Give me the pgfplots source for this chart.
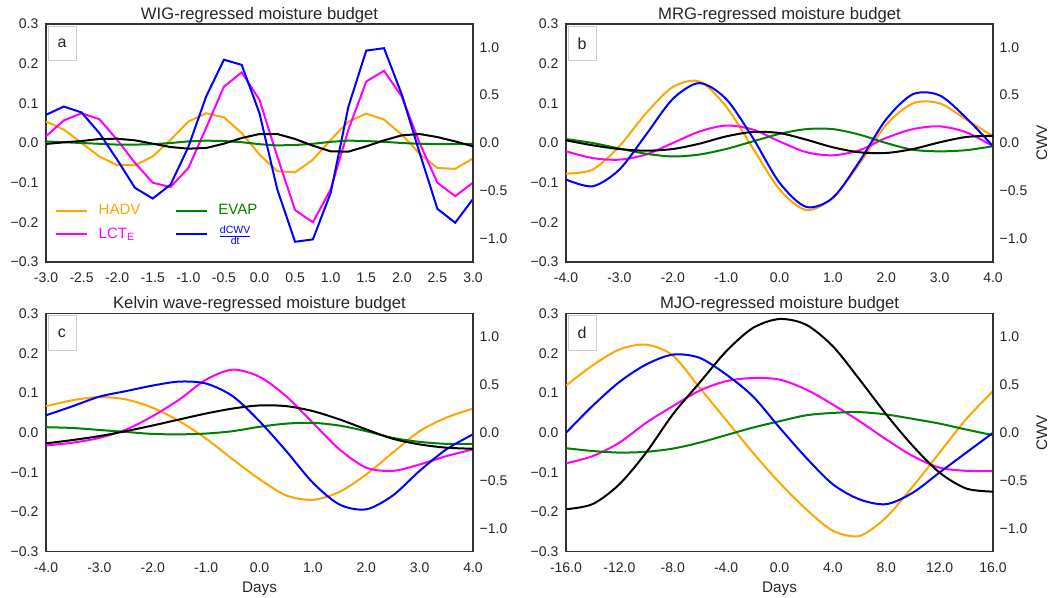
\documentclass[border=0pt]{standalone}
\usepackage{fontspec}
\setmainfont{Liberation Sans}
\usepackage{amsmath}
\usepackage{pgfplots}
\usepackage{pgfplotstable}
\pgfplotsset{compat=1.18}

\definecolor{hadv}{HTML}{FFA500}
\definecolor{lct}{HTML}{FF00FF}
\definecolor{evap}{HTML}{008000}
\definecolor{dcwv}{HTML}{0000FF}
\definecolor{frame}{HTML}{333333}

% panel a: WIG
\pgfplotstableread{
x     hadv    lct     evap    dcwv    cwv
-3.00  0.054   0.017   0.004   0.071  -0.010
-2.75  0.034   0.057   0.002   0.092   0.007
-2.50  0.000   0.075   0.000   0.077   0.021
-2.25 -0.034   0.060  -0.002   0.025   0.042
-2.00 -0.056   0.008  -0.004  -0.042   0.045
-1.75 -0.056  -0.050  -0.004  -0.113   0.028
-1.50 -0.034  -0.100  -0.003  -0.140  -0.007
-1.25  0.008  -0.111   0.000  -0.105  -0.042
-1.00  0.054  -0.063   0.004  -0.010  -0.059
-0.75  0.075   0.038   0.006   0.117  -0.052
-0.50  0.065   0.142   0.005   0.210  -0.007
-0.25  0.025   0.178   0.002   0.197   0.052
 0.00 -0.029   0.109  -0.003   0.075   0.094
 0.25 -0.071  -0.034  -0.006  -0.117   0.094
 0.50 -0.074  -0.169  -0.005  -0.249   0.042
 0.75 -0.042  -0.200  -0.002  -0.243  -0.028
 1.00  0.008  -0.117   0.003  -0.126  -0.087
 1.25  0.054   0.034   0.006   0.092  -0.090
 1.50  0.074   0.155   0.005   0.233  -0.035
 1.75  0.059   0.182   0.003   0.239   0.028
 2.00  0.021   0.117   0.000   0.122   0.080
 2.25 -0.027   0.000  -0.002  -0.025   0.094
 2.50 -0.063  -0.100  -0.003  -0.166   0.062
 2.75 -0.065  -0.134  -0.003  -0.201   0.017
 3.00 -0.039  -0.100  -0.002  -0.141  -0.035
}\wig

% panel b: MRG
\pgfplotstableread{
x     hadv    lct     evap    dcwv    cwv
-4.0  -0.077  -0.021   0.010  -0.092   0.028
-3.5  -0.067  -0.038   0.000  -0.109  -0.024
-3.0  -0.008  -0.042  -0.014  -0.067  -0.063
-2.5   0.075  -0.029  -0.027   0.021  -0.080
-2.0   0.141   0.000  -0.034   0.111  -0.063
-1.5   0.155   0.029  -0.029   0.151  -0.007
-1.0   0.092   0.044  -0.015   0.111   0.069
-0.5  -0.013   0.034   0.004   0.013   0.115
 0.0  -0.117   0.004   0.023  -0.100   0.104
 0.5  -0.169  -0.023   0.035  -0.161   0.035
 1.0  -0.138  -0.031   0.035  -0.138  -0.045
 1.5  -0.052  -0.018   0.021  -0.046  -0.097
 2.0   0.046   0.013   0.000   0.060  -0.104
 2.5   0.100   0.035  -0.017   0.123  -0.063
 3.0   0.100   0.042  -0.021   0.120   0.007
 3.5   0.059   0.027  -0.018   0.063   0.063
 4.0   0.017  -0.008  -0.008  -0.008   0.076
}\mrg

% panel c: Kelvin
\pgfplotstableread{
x     hadv    lct     evap    dcwv    cwv
-4.0   0.067  -0.032   0.014   0.044  -0.111
-3.5   0.082  -0.025   0.012   0.067  -0.076
-3.0   0.090  -0.013   0.007   0.091  -0.035
-2.5   0.084   0.008   0.002   0.105   0.017
-2.0   0.063   0.042  -0.003   0.119   0.076
-1.5   0.029   0.084  -0.004   0.129   0.139
-1.0  -0.015   0.134  -0.002   0.124   0.201
-0.5  -0.067   0.159   0.004   0.092   0.253
 0.0  -0.117   0.141   0.015   0.029   0.285
 0.5  -0.158   0.092   0.023  -0.046   0.278
 1.0  -0.169   0.025   0.025  -0.126   0.226
 1.5  -0.149  -0.042   0.018  -0.181   0.139
 2.0  -0.105  -0.088   0.004  -0.193   0.035
 2.5  -0.050  -0.096  -0.013  -0.158  -0.063
 3.0   0.004  -0.080  -0.023  -0.096  -0.122
 3.5   0.038  -0.059  -0.028  -0.042  -0.156
 4.0   0.061  -0.042  -0.028  -0.004  -0.167
}\kelvin

% panel d: MJO
\pgfplotstableread{
x     hadv    lct     evap    dcwv    cwv
-16    0.119  -0.077  -0.039   0.000  -0.799
-14    0.170  -0.059  -0.046   0.068  -0.745
-12    0.210  -0.025  -0.050   0.128  -0.538
-10    0.222   0.025  -0.048   0.172  -0.208
 -8    0.195   0.067  -0.040   0.197   0.191
 -6    0.114   0.106  -0.025   0.189   0.521
 -4    0.032   0.130  -0.006   0.147   0.850
 -2   -0.050   0.138   0.013   0.092   1.094
  0   -0.126   0.134   0.029   0.013   1.188
  2   -0.193   0.109   0.044  -0.063   1.128
  4   -0.247   0.071   0.050  -0.130   0.903
  6   -0.260   0.029   0.052  -0.168   0.556
  8   -0.213  -0.017   0.046  -0.180   0.191
 10   -0.135  -0.059   0.035  -0.151  -0.139
 12   -0.050  -0.088   0.023  -0.100  -0.417
 14    0.035  -0.096   0.008  -0.050  -0.583
 16    0.105  -0.096  -0.006   0.000  -0.615
}\mjo

\tikzset{
  tag/.style={draw=gray!40, fill=white, minimum width=21pt, minimum height=26pt,
    anchor=north west, font=\fontsize{12}{14}\selectfont, text=black!85},
}

\pgfplotsset{
  common/.style={
    scale only axis, width=320.25pt, height=178.5pt,
    major tick length=0pt,
    axis line style={frame, line width=1pt},
    tick label style={font=\fontsize{10.5}{12}\selectfont, text=black!85},
    label style={font=\fontsize{11.5}{13}\selectfont, text=black!85},
    every axis plot/.append style={line width=1.5pt},
  },
  panel/.style={
    common,
    ymin=-0.3, ymax=0.3,
    ytick={-0.3,-0.2,-0.1,0,0.1,0.2,0.3},
    yticklabels={−0.3,−0.2,−0.1,0.0,0.1,0.2,0.3},
    yticklabel style={xshift=-2.25pt},
    xticklabel style={yshift=-4.5pt},
    title style={font=\fontsize{12.5}{14}\selectfont, text=black!85, yshift=-8.5pt},
  },
  cwv/.style={
    common,
    ymin=-1.243, ymax=1.243,
    axis y line*=right, axis x line=none,
    ytick={-1,-0.5,0,0.5,1},
    yticklabels={−1.0,−0.5,0.0,0.5,1.0},
    yticklabel style={xshift=1.5pt},
  },
}

\begin{document}
\begin{tikzpicture}
\path[use as bounding box] (0,0) rectangle (792pt,-447.75pt);

% ---- a ----
\begin{axis}[panel, at={(34.5pt,-196.5pt)}, anchor=south west,
  title={WIG-regressed moisture budget},
  xmin=-3, xmax=3,
  xtick={-3,-2.5,-2,-1.5,-1,-0.5,0,0.5,1,1.5,2,2.5,3},
  xticklabels={-3.0,-2.5,-2.0,-1.5,-1.0,-0.5,0.0,0.5,1.0,1.5,2.0,2.5,3.0},
  legend columns=2, transpose legend,
  legend style={at={(axis description cs:0.012,0.265)}, anchor=north west,
    draw=none, fill=none, font=\fontsize{11.25}{13}\selectfont,
    cells={anchor=west}, row sep=3pt,
    /tikz/every odd column/.append style={column sep=6pt},
    /tikz/every even column/.append style={column sep=24pt}},
  legend image code/.code={\draw[#1] (0pt,0pt) -- (23pt,0pt);},
]
\addplot[hadv] table[y=hadv] {\wig};
\addlegendentry{\textcolor{hadv}{HADV}}
\addplot[lct] table[y=lct] {\wig};
\addlegendentry{\textcolor{lct}{LCT\textsubscript{E}}}
\addplot[evap] table[y=evap] {\wig};
\addlegendentry{\textcolor{evap}{EVAP}}
\addplot[dcwv] table[y=dcwv] {\wig};
\addlegendentry{\textcolor{dcwv}{$\frac{\text{dCWV}}{\text{dt}}$}}
\node[tag] at (rel axis cs:0.004,0.993) {a};
\end{axis}
\begin{axis}[cwv, at={(34.5pt,-196.5pt)}, anchor=south west, xmin=-3, xmax=3]
\addplot[black] table[y=cwv] {\wig};
\end{axis}

% ---- b ----
\begin{axis}[panel, at={(424.5pt,-196.5pt)}, anchor=south west,
  title={MRG-regressed moisture budget},
  xmin=-4, xmax=4,
  xtick={-4,-3,-2,-1,0,1,2,3,4},
  xticklabels={-4.0,-3.0,-2.0,-1.0,0.0,1.0,2.0,3.0,4.0},
]
\addplot[hadv, smooth] table[y=hadv] {\mrg};
\addplot[lct, smooth] table[y=lct] {\mrg};
\addplot[evap, smooth] table[y=evap] {\mrg};
\addplot[dcwv, smooth] table[y=dcwv] {\mrg};
\node[tag] at (rel axis cs:0.004,0.993) {b};
\end{axis}
\begin{axis}[cwv, at={(424.5pt,-196.5pt)}, anchor=south west, xmin=-4, xmax=4,
  ylabel={CWV}]
\addplot[black, smooth] table[y=cwv] {\mrg};
\end{axis}

% ---- c ----
\begin{axis}[panel, at={(34.5pt,-413.8pt)}, anchor=south west,
  title={Kelvin wave-regressed moisture budget},
  xmin=-4, xmax=4, xlabel={Days},
  xtick={-4,-3,-2,-1,0,1,2,3,4},
  xticklabels={-4.0,-3.0,-2.0,-1.0,0.0,1.0,2.0,3.0,4.0},
]
\addplot[hadv, smooth] table[y=hadv] {\kelvin};
\addplot[lct, smooth] table[y=lct] {\kelvin};
\addplot[evap, smooth] table[y=evap] {\kelvin};
\addplot[dcwv, smooth] table[y=dcwv] {\kelvin};
\node[tag] at (rel axis cs:0.004,0.993) {c};
\end{axis}
\begin{axis}[cwv, at={(34.5pt,-413.8pt)}, anchor=south west, xmin=-4, xmax=4]
\addplot[black, smooth] table[y=cwv] {\kelvin};
\end{axis}

% ---- d ----
\begin{axis}[panel, at={(424.5pt,-413.8pt)}, anchor=south west,
  title={MJO-regressed moisture budget},
  xmin=-16, xmax=16, xlabel={Days},
  xtick={-16,-12,-8,-4,0,4,8,12,16},
  xticklabels={-16.0,-12.0,-8.0,-4.0,0.0,4.0,8.0,12.0,16.0},
]
\addplot[hadv, smooth] table[y=hadv] {\mjo};
\addplot[lct, smooth] table[y=lct] {\mjo};
\addplot[evap, smooth] table[y=evap] {\mjo};
\addplot[dcwv, smooth] table[y=dcwv] {\mjo};
\node[tag] at (rel axis cs:0.004,0.993) {d};
\end{axis}
\begin{axis}[cwv, at={(424.5pt,-413.8pt)}, anchor=south west, xmin=-16, xmax=16,
  ylabel={CWV}]
\addplot[black, smooth] table[y=cwv] {\mjo};
\end{axis}
\end{tikzpicture}
\end{document}
